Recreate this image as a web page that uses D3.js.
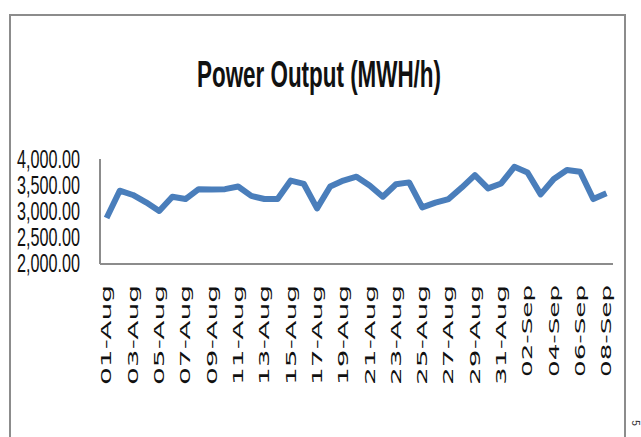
<!DOCTYPE html>
<html>
<head>
<meta charset="utf-8">
<script src="https://cdn.jsdelivr.net/npm/d3@7"></script>
<style>
  body { margin: 0; background: #fff; }
  svg { display: block; }
</style>
</head>
<body>
<div></div>
<script>
var days = ["01-Aug","02-Aug","03-Aug","04-Aug","05-Aug","06-Aug","07-Aug","08-Aug","09-Aug","10-Aug",
            "11-Aug","12-Aug","13-Aug","14-Aug","15-Aug","16-Aug","17-Aug","18-Aug","19-Aug","20-Aug",
            "21-Aug","22-Aug","23-Aug","24-Aug","25-Aug","26-Aug","27-Aug","28-Aug","29-Aug","30-Aug",
            "31-Aug","01-Sep","02-Sep","03-Sep","04-Sep","05-Sep","06-Sep","07-Sep","08-Sep"];

var power = [2865, 3390, 3308, 3167, 3000, 3275, 3230, 3420, 3415, 3420,
             3470, 3290, 3230, 3230, 3585, 3520, 3050, 3470, 3585, 3660,
             3490, 3275, 3515, 3550, 3070, 3160, 3230, 3450, 3690, 3435,
             3530, 3850, 3740, 3320, 3615, 3790, 3755, 3230, 3340];

var yTicks = [2000, 2500, 3000, 3500, 4000];

var width = 641, height = 437;

var svg = d3.select("div")
  .append("svg")
  .attr("width", width)
  .attr("height", height);

// outer chart frame (bottom edge is cut off in the original)
svg.append("path")
  .attr("d", "M10,437 V15 H625 V437")
  .attr("fill", "none")
  .attr("stroke", "#8c8c8c")
  .attr("stroke-width", 2);

svg.append("text")
  .attr("x", 319)
  .attr("y", 87)
  .attr("text-anchor", "middle")
  .attr("textLength", 244)
  .attr("lengthAdjust", "spacingAndGlyphs")
  .style("font-family", "Liberation Sans, Arial, sans-serif")
  .style("font-size", "36px")
  .style("font-weight", "bold")
  .style("fill", "#111")
  .text("Power Output (MWH/h)");

var x = d3.scalePoint()
  .domain(days)
  .range([100, 613])
  .padding(0.5);

var y = d3.scaleLinear()
  .domain([2000, 4000])
  .range([263, 159]);

// y tick labels, no tick marks
svg.selectAll(".ylab")
  .data(yTicks)
  .enter()
  .append("text")
  .attr("class", "ylab")
  .attr("x", 80)
  .attr("y", function(d) { return y(d); })
  .attr("dy", "0.35em")
  .attr("text-anchor", "end")
  .attr("textLength", 63)
  .attr("lengthAdjust", "spacingAndGlyphs")
  .style("font-family", "Liberation Sans, Arial, sans-serif")
  .style("font-size", "25px")
  .style("fill", "#111")
  .text(function(d) { return d3.format(",.2f")(d); });

// axis lines
svg.append("line")
  .attr("x1", 100).attr("x2", 100)
  .attr("y1", y(4000)).attr("y2", y(2000) + 1)
  .attr("stroke", "#8c8c8c")
  .attr("stroke-width", 2);

svg.append("line")
  .attr("x1", 100).attr("x2", 613)
  .attr("y1", y(2000) + 1).attr("y2", y(2000) + 1)
  .attr("stroke", "#8c8c8c")
  .attr("stroke-width", 2);

// x labels, every second day, rotated and stretched
svg.selectAll(".xlab")
  .data(days.filter(function(d, i) { return i % 2 == 0; }))
  .enter()
  .append("text")
  .attr("class", "xlab")
  .attr("transform", function(d) { return "translate(" + x(d) + ",285) rotate(-90)"; })
  .attr("dy", "0.35em")
  .attr("text-anchor", "end")
  .attr("textLength", function(d) { return d.indexOf("Sep") > 0 ? 92 : 100; })
  .attr("lengthAdjust", "spacingAndGlyphs")
  .style("font-family", "DejaVu Sans, sans-serif")
  .style("font-size", "14px")
  .style("fill", "#111")
  .text(function(d) { return d; });

var line = d3.line()
  .x(function(d, i) { return x(days[i]); })
  .y(function(d) { return y(d); });

svg.append("path")
  .datum(power)
  .attr("d", line)
  .attr("fill", "none")
  .attr("stroke", "#4a7ebb")
  .attr("stroke-width", 6)
  .attr("stroke-linejoin", "round")
  .attr("stroke-linecap", "butt");

// stray clipped glyph at the bottom-right corner
svg.append("text")
  .attr("transform", "translate(632,423) rotate(90)")
  .attr("text-anchor", "middle")
  .style("font-family", "Liberation Sans, Arial, sans-serif")
  .style("font-size", "10px")
  .style("fill", "#333")
  .text("5");
</script>
</body>
</html>
